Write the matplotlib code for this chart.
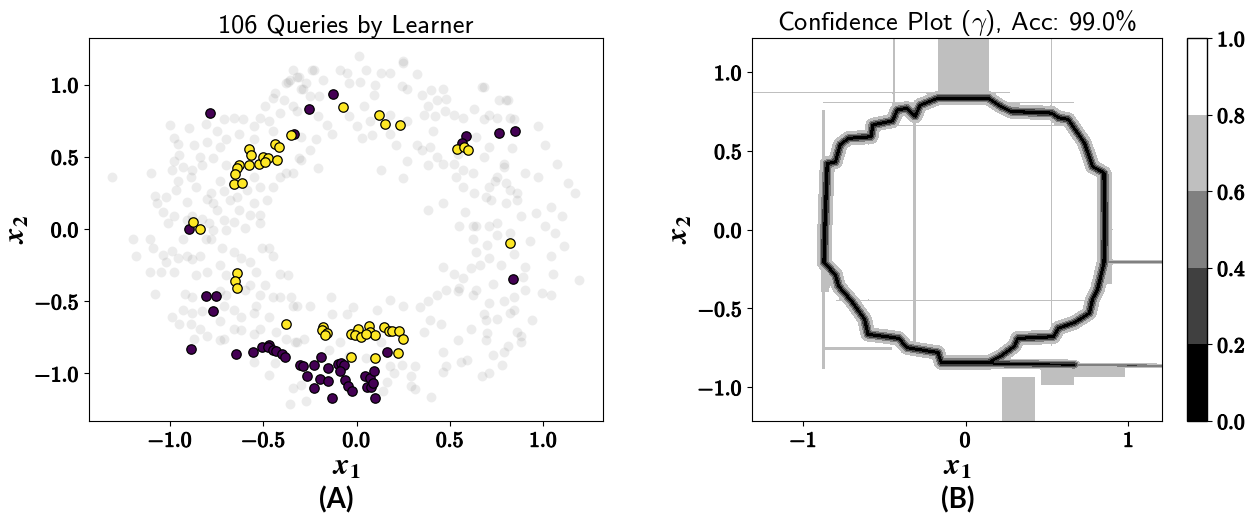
import numpy as np
import matplotlib
matplotlib.use("Agg")
import matplotlib.pyplot as plt
import matplotlib.patheffects as pe

plt.rcParams["mathtext.fontset"] = "cm"

# ---------------- panel A data ----------------
# unlabelled pool, drawn as faint grey dots
bg_points = [
    (-1.31, 0.36), (-1.00, 0.72), (-0.98, 0.63), (-0.90, 0.70), (-0.81, 0.73), (-0.75, 0.68),
    (-0.71, 0.76), (-0.66, 0.77), (-0.61, 0.76), (-0.55, 0.71), (-0.52, 0.77), (-0.49, 0.85),
    (-0.44, 0.94), (-0.39, 0.89), (-0.38, 1.01), (-0.36, 1.03), (-0.31, 1.05), (-0.29, 0.97),
    (-0.27, 1.01), (-0.32, 0.82), (-0.41, 0.80), (-0.47, 0.75), (-0.45, 0.68), (-0.55, 0.62),
    (-0.63, 0.66), (-0.70, 0.62), (-0.73, 0.57), (-0.80, 0.60), (-0.87, 0.58), (-0.95, 0.51),
    (-0.98, 0.47), (-0.99, 0.41), (-0.93, 0.43), (-0.88, 0.41), (-0.83, 0.44), (-0.89, 0.36),
    (-0.96, 0.33), (-0.97, 0.27), (-1.02, 0.22), (-1.07, 0.18), (-1.08, 0.23), (-1.04, 0.12),
    (-0.98, 0.09), (-1.01, 0.04), (-0.91, 0.19), (-0.86, 0.29), (-0.80, 0.21), (-0.78, 0.25),
    (-0.73, 0.33), (-0.71, 0.26), (-0.77, 0.18), (-0.75, 0.13), (-0.68, 0.20), (-0.63, 0.13),
    (-0.64, 0.22), (-0.55, 0.18), (-0.57, 0.10), (-0.52, 0.10), (-0.48, 0.20), (-0.45, 0.29),
    (-0.41, 0.36), (-0.38, 0.39), (-0.34, 0.39), (-0.30, 0.48), (-0.30, 0.64), (-0.52, 0.29),
    (-0.55, 0.36), (-0.59, 0.27), (-0.83, 0.07), (-0.88, 0.09), (-0.79, 0.04), (-0.71, 0.06),
    (-0.66, 0.05), (-0.60, 0.01), (-0.70, -0.01), (-0.77, -0.01), (-0.91, 0.06), (-0.52, 0.04),
    (-0.84, 0.50), (-0.77, 0.49), (-0.70, 0.44), (-0.96, 0.59),
    (0.01, 1.20), (-0.05, 1.08), (-0.09, 1.10), (0.05, 1.10), (0.02, 1.02), (0.13, 1.08),
    (0.18, 1.08), (0.25, 1.15), (0.32, 1.07), (0.27, 0.97), (0.10, 1.00), (0.09, 0.93),
    (0.35, 0.93), (0.40, 0.96), (0.46, 0.97), (0.48, 0.90), (0.43, 0.89), (0.38, 0.85),
    (0.47, 0.82), (0.36, 0.79), (0.27, 0.75), (0.18, 0.79), (0.07, 0.75), (0.04, 0.85),
    (-0.04, 0.78), (-0.16, 0.72), (-0.21, 0.78), (-0.25, 0.92), (-0.30, 0.97), (-0.32, 1.05),
    (-0.20, 0.92), (-0.04, 1.01), (-0.18, 1.03), (-0.24, 1.10), (0.00, 0.71), (0.03, 0.63),
    (0.08, 0.65), (-0.13, 0.66), (-0.22, 0.62), (-0.25, 0.55), (-0.21, 0.42), (-0.31, 0.49),
    (0.13, 0.41), (0.25, 0.35), (0.27, 0.47), (0.21, 0.58), (0.18, 0.66), (0.32, 0.58),
    (0.35, 0.55), (0.39, 0.57), (0.41, 0.68), (0.42, 0.78), (0.52, 0.79), (0.57, 0.77),
    (0.63, 0.83), (0.68, 0.98), (0.71, 0.79), (0.75, 0.77), (0.81, 0.89), (0.82, 0.77),
    (0.83, 0.56), (0.79, 0.45), (0.71, 0.57), (0.64, 0.64), (0.68, 0.50), (0.75, 0.36),
    (0.80, 0.32), (0.71, 0.29), (0.69, 0.22), (0.72, 0.20), (0.63, 0.25), (0.57, 0.29),
    (0.53, 0.36), (0.52, 0.45), (0.46, 0.45), (0.43, 0.50), (0.38, 0.44), (0.57, 0.41),
    (0.62, 0.39), (0.54, 0.52), (0.46, 0.18), (0.38, 0.13), (0.58, 0.12), (0.64, 0.02),
    (0.71, 0.02), (0.75, 0.04), (0.80, 0.18), (0.86, 0.25), (0.62, 0.02), (0.55, 0.02),
    (-0.34, 1.10), (-0.34, 0.85),
    (-1.20, -0.07), (-1.18, -0.19), (-1.11, -0.07), (-1.09, -0.13), (-1.11, -0.30), (-1.08, -0.45),
    (-1.05, -0.30), (-1.04, -0.18), (-0.99, -0.15), (-0.98, -0.30), (-1.02, -0.23), (-0.96, -0.20),
    (-0.93, -0.07), (-0.91, -0.19), (-0.88, -0.21), (-0.84, -0.19), (-0.81, -0.07), (-0.78, -0.07),
    (-0.72, -0.13), (-0.66, -0.16), (-0.62, -0.20), (-0.57, -0.23), (-0.54, -0.30), (-0.51, -0.13),
    (-0.47, -0.13), (-0.45, -0.19), (-0.49, -0.39), (-0.52, -0.46), (-0.54, -0.53), (-0.55, -0.58),
    (-0.47, -0.61), (-0.45, -0.47), (-0.41, -0.47), (-0.37, -0.32), (-0.41, -0.31), (-0.35, -0.47),
    (-0.32, -0.53), (-0.43, -0.71), (-0.52, -0.69), (-0.62, -0.70), (-0.66, -0.69), (-0.71, -0.76),
    (-0.73, -0.77), (-0.80, -0.74), (-0.87, -0.76), (-0.84, -0.69), (-0.89, -0.66), (-0.95, -0.66),
    (-0.99, -0.61), (-0.93, -0.56), (-0.92, -0.45), (-0.88, -0.47), (-0.88, -0.58), (-0.83, -0.57),
    (-0.71, -0.53), (-0.66, -0.56), (-0.62, -0.61), (-0.73, -0.43), (-0.70, -0.46), (-0.57, -0.39),
    (-0.70, -0.32), (-0.73, -0.25), (-0.80, -0.30), (-0.86, -0.32), (-0.60, -0.42), (-0.55, -0.92),
    (-0.47, -1.01), (-0.34, -1.10), (-0.36, -1.21), (-0.44, -0.93), (-0.32, -0.78), (-0.28, -0.76),
    (-0.38, -0.76), (-0.55, -0.73), (-0.73, -0.64),
    (-0.34, -0.53), (-0.33, -0.78), (-0.25, -0.53), (-0.14, -0.47), (-0.13, -0.59), (-0.05, -0.59),
    (-0.02, -0.54), (-0.09, -0.78), (-0.15, -0.84), (-0.04, -0.88), (0.05, -0.89), (0.13, -0.78),
    (0.11, -0.56), (0.18, -0.49), (0.25, -0.53), (0.34, -0.54), (0.38, -0.50), (0.43, -0.46),
    (0.48, -0.42), (0.54, -0.43), (0.46, -0.26), (0.52, -0.31), (0.55, -0.41), (0.62, -0.46),
    (0.64, -0.42), (0.57, -0.34), (0.61, -0.27), (0.66, -0.25), (0.64, -0.16), (0.62, -0.07),
    (0.70, -0.11), (0.75, -0.04), (0.71, -0.20), (0.77, -0.25), (0.73, -0.38), (0.79, -0.50),
    (0.84, -0.47), (0.82, -0.58), (0.71, -0.51), (0.68, -0.59), (0.69, -0.77), (0.61, -0.69),
    (0.54, -0.77), (0.45, -0.66), (0.39, -0.63), (0.36, -0.71), (0.46, -0.85), (0.56, -0.92),
    (0.46, -0.99), (0.40, -1.16), (0.31, -1.11), (0.29, -1.02), (0.24, -0.94), (0.18, -0.95),
    (0.16, -1.06), (0.14, -1.12), (0.73, -0.87), (0.71, -1.00), (0.79, -0.85), (0.86, -0.71),
    (0.75, -0.62), (0.88, -0.78), (-0.30, -1.08), (-0.27, -1.19),
    (1.01, 0.58), (0.97, 0.71), (0.84, 0.76), (1.07, 0.45), (0.97, 0.36), (1.13, 0.32),
    (1.17, 0.25), (1.04, 0.15), (0.96, 0.11), (1.01, 0.02), (1.10, 0.09), (1.06, -0.03),
    (0.93, -0.08), (1.11, -0.12), (1.04, -0.19), (1.19, -0.35), (1.05, -0.31), (0.90, -0.26),
    (0.99, -0.44), (1.04, -0.46), (0.89, -0.33), (0.90, -0.42), (0.94, -0.63), (0.88, -0.74),
    (0.81, -0.81), (0.70, -0.72), (0.78, -0.94), (0.67, -1.02), (0.69, -0.63), (0.84, -0.56),
    (0.76, 0.89), (0.80, 0.89), (0.67, 0.98), (0.68, 0.76), (0.79, 0.43), (0.74, 0.33),
    (0.86, 0.20), (0.82, 0.27), (0.90, 0.39), (0.82, -0.03), (0.88, 0.09), (0.84, -0.17),
    (0.29, -1.09), (0.48, -0.95), (0.59, -0.91), (0.31, -0.95), (0.20, -1.00),
    (0.25, 1.16), (0.24, 0.99), (-0.23, 1.10), (-0.37, 1.02), (-0.45, 0.91), (-1.10, 0.39),
]

# queried points, outer class (purple)
queried_outer = [
    (-0.787, 0.801), (-0.254, 0.834), (-0.336, 0.656), (-0.129, 0.937), (0.585, 0.642),
    (0.562, 0.592), (0.764, 0.665), (0.848, 0.677),
    (-0.898, 0.000), (-0.809, -0.461), (-0.755, -0.461), (-0.771, -0.566), (0.836, -0.347),
    (-0.886, -0.831), (-0.646, -0.863), (-0.557, -0.852), (-0.505, -0.820), (-0.471, -0.801),
    (-0.477, -0.820), (-0.447, -0.836), (-0.432, -0.847), (-0.398, -0.863), (-0.384, -0.886),
    (-0.304, -0.939), (-0.289, -0.951), (-0.265, -1.020),
    (0.164, -0.854), (-0.227, -0.939), (-0.193, -0.886), (-0.229, -1.100), (-0.197, -1.038),
    (-0.152, -0.962), (-0.152, -1.054), (-0.131, -1.169), (-0.102, -0.934), (-0.086, -0.928),
    (-0.068, -0.939), (-0.089, -0.985), (-0.063, -1.043), (-0.045, -1.089), (-0.027, -1.124),
    (0.044, -1.020), (0.054, -1.096), (0.075, -1.096), (0.071, -1.031), (0.093, -0.985),
    (0.086, -1.066), (0.100, -1.169),
]

# queried points, inner class (yellow)
queried_inner = [
    (-0.578, 0.552), (-0.568, 0.509), (-0.630, 0.442), (-0.643, 0.423), (-0.652, 0.378),
    (-0.657, 0.309), (-0.613, 0.316), (-0.578, 0.442), (-0.522, 0.447), (-0.500, 0.499),
    (-0.473, 0.488), (-0.490, 0.463), (-0.428, 0.477), (-0.436, 0.587), (-0.418, 0.568),
    (-0.351, 0.649),
    (-0.875, 0.048), (-0.839, -0.002),
    (-0.072, 0.843), (0.121, 0.787), (0.150, 0.725), (0.234, 0.720),
    (0.539, 0.552), (0.576, 0.570), (0.598, 0.546),
    (-0.643, -0.302), (-0.652, -0.357), (-0.640, -0.405), (-0.377, -0.656), (0.823, -0.099),
    (-0.179, -0.675), (-0.188, -0.698), (-0.161, -0.721), (-0.170, -0.737),
    (-0.031, -0.725), (0.009, -0.693), (-0.007, -0.732), (0.023, -0.746), (0.067, -0.674),
    (0.073, -0.714), (0.095, -0.734), (0.051, -0.725),
    (0.148, -0.675), (0.175, -0.704), (0.187, -0.709), (0.228, -0.709), (0.246, -0.762),
    (-0.031, -0.886), (0.100, -0.891), (0.221, -0.856),
]

# ---------------- panel B data ----------------
# decision boundary of the learner (closed ring), data coordinates
ring = [
    (0.14, 0.835), (-0.17, 0.835), (-0.28, 0.79), (-0.31, 0.72), (-0.36, 0.77), (-0.42, 0.76),
    (-0.45, 0.69), (-0.57, 0.665), (-0.58, 0.59), (-0.72, 0.58), (-0.77, 0.54), (-0.80, 0.43),
    (-0.85, 0.42), (-0.865, 0.0), (-0.87, -0.21), (-0.80, -0.285), (-0.78, -0.36),
    (-0.70, -0.455), (-0.62, -0.57), (-0.60, -0.665), (-0.41, -0.69), (-0.36, -0.75),
    (-0.17, -0.78), (-0.15, -0.845), (0.14, -0.845), (0.22, -0.80), (0.30, -0.74),
    (0.32, -0.69), (0.54, -0.68), (0.57, -0.625), (0.67, -0.59), (0.76, -0.53), (0.78, -0.44),
    (0.81, -0.38), (0.85, -0.21), (0.855, 0.0), (0.85, 0.36), (0.78, 0.40), (0.73, 0.55),
    (0.63, 0.70), (0.57, 0.71), (0.53, 0.74), (0.28, 0.75), (0.22, 0.78), (0.16, 0.82),
]
# extra low-confidence lines and the confidence on them
tail_lines = [
    [(0.14, -0.85), (0.67, -0.858)],
    [(0.67, -0.858), (1.21, -0.865)],
    [(0.86, -0.205), (1.21, -0.205)],
]
tail_conf = [0.0, 0.3, 0.35]
# axis-aligned stripes (x0, x1, y0, y1) and their confidence
stripes = [
    (-0.173, 0.149, 0.88, 1.22), (0.221, 0.430, -1.22, -0.93), (-0.452, -0.432, 0.78, 1.22),
    (0.518, 0.535, -0.74, 1.22), (-0.325, -0.300, -0.76, 0.74), (-0.600, -0.592, -0.45, 0.57),
    (-1.31, 0.28, 0.862, 0.876), (-0.88, 0.67, 0.800, 0.815), (-0.58, 0.67, 0.655, 0.668),
    (-0.80, 0.78, -0.457, -0.443), (-0.895, -0.835, -0.40, 0.45), (0.46, 0.67, -0.99, -0.87),
    (0.67, 0.98, -0.94, -0.87), (-0.86, -0.45, -0.77, -0.74), (-0.885, -0.86, -0.89, -0.30),
    (-0.885, -0.86, 0.42, 0.76), (0.87, 0.905, -0.35, 0.33),
]
stripe_conf = [0.7] * len(stripes)
conf_levels = [0.0, 0.2, 0.4, 0.6, 0.8, 1.0]
band_colors = ["#000000", "#404040", "#808080", "#bfbfbf", "#ffffff"]


def dist_to_path(X, Y, pts, closed=False):
    p = np.asarray(pts, dtype=float)
    if closed:
        p = np.vstack([p, p[:1]])
    d = np.full(X.shape, np.inf)
    for (x0, y0), (x1, y1) in zip(p[:-1], p[1:]):
        dx, dy = x1 - x0, y1 - y0
        t = np.clip(((X - x0) * dx + (Y - y0) * dy) / (dx * dx + dy * dy), 0, 1)
        d = np.minimum(d, np.hypot(X - x0 - t * dx, Y - y0 - t * dy))
    return d


# confidence map: thin black core, wider light fringe around the boundary
gx = np.linspace(-1.31, 1.205, 700)
gy = np.linspace(-1.215, 1.215, 700)
X, Y = np.meshgrid(gx, gy)
ring_d = dist_to_path(X, Y, ring, closed=True)
conf = np.interp(ring_d, [0, 0.013, 0.022, 0.030, 0.050, 0.056], [0, 0.2, 0.4, 0.6, 0.8, 1.0])
for line, c0 in zip(tail_lines, tail_conf):
    w = 0.025 if c0 > 0 else 0.045
    d = dist_to_path(X, Y, line)
    conf = np.minimum(conf, c0 + (1 - c0) * np.clip(d / w, 0, 1))
for (x0, x1, y0, y1), c in zip(stripes, stripe_conf):
    m = (X >= x0) & (X <= x1) & (Y >= y0) & (Y <= y1)
    conf[m] = np.minimum(conf[m], c)
conf = np.clip(conf, 0, 0.999)


def bold(s):
    return r"$\mathbf{" + s + "}$"


def thicken(labels):
    for lab in labels:
        lab.set_path_effects([pe.withStroke(linewidth=0.8, foreground="black")])


tick_fs = 15.5
fig = plt.figure(figsize=(12.51, 5.16), dpi=100)
ax1 = fig.add_axes([0.0713, 0.1841, 0.4106, 0.7417])
ax2 = fig.add_axes([0.6014, 0.1841, 0.3273, 0.7417])
cax = fig.add_axes([0.9492, 0.1841, 0.016, 0.7417])

# (A) queries
bg = np.array(bg_points)
outer = np.array(queried_outer)
inner = np.array(queried_inner)
ax1.scatter(bg[:, 0], bg[:, 1], s=50, color="gray", alpha=0.15, linewidths=0)
ax1.scatter(outer[:, 0], outer[:, 1], s=46, color="#440154", edgecolors="black", linewidths=0.9)
ax1.scatter(inner[:, 0], inner[:, 1], s=46, color="#fde725", edgecolors="black", linewidths=0.9)
ax1.set_xlim(-1.433, 1.318)
ax1.set_ylim(-1.329, 1.32)
xt1 = [-1.0, -0.5, 0.0, 0.5, 1.0]
ax1.set_xticks(xt1, [bold(f"{v:.1f}") for v in xt1], fontsize=tick_fs)
ax1.set_yticks(xt1, [bold(f"{v:.1f}") for v in xt1], fontsize=tick_fs)
ax1.set_title("106 Queries by Learner", fontfamily="cmss10", fontsize=19, pad=4)

# (B) confidence
cs = ax2.contourf(X, Y, conf, levels=conf_levels, colors=band_colors)
ax2.set_xlim(-1.31, 1.205)
ax2.set_ylim(-1.215, 1.215)
xt2 = [-1, 0, 1]
ax2.set_xticks(xt2, [bold(f"{v:d}") for v in xt2], fontsize=tick_fs)
ax2.set_yticks(xt1, [bold(f"{v:.1f}") for v in xt1], fontsize=tick_fs)
ax2.set_title(r"Confidence Plot ($\gamma$), Acc: 99.0%", fontfamily="cmss10", fontsize=19, pad=4)

cb = fig.colorbar(cs, cax=cax, ticks=conf_levels)
cb.ax.set_yticklabels([bold(f"{v:.1f}") for v in conf_levels], fontsize=tick_fs)
cb.outline.set_linewidth(1.0)
thicken(cb.ax.get_yticklabels())

for ax in (ax1, ax2):
    ax.set_xlabel(r"$\mathbfit{x}_{\mathbf{1}}$", fontsize=22, math_fontfamily="stix", labelpad=1)
    ax.set_ylabel(r"$\mathbfit{x}_{\mathbf{2}}$", fontsize=22, math_fontfamily="stix", labelpad=2)
    thicken(ax.get_xticklabels() + ax.get_yticklabels())

fig.text(336 / 1251, 1 - 500 / 516, "(A)", ha="center", va="center",
         fontsize=20, fontweight="bold", family="Lato")
fig.text(958 / 1251, 1 - 500 / 516, "(B)", ha="center", va="center",
         fontsize=20, fontweight="bold", family="Lato")

fig.savefig("out.png", dpi=100)
